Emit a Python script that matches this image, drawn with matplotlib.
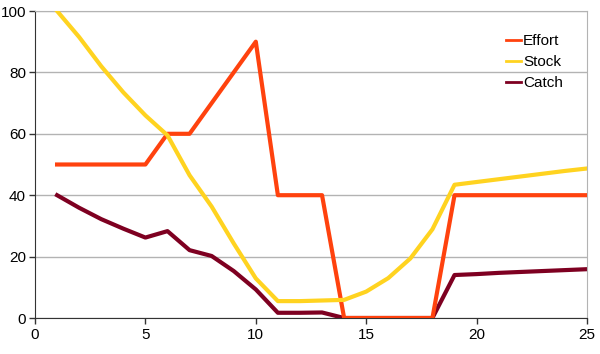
import matplotlib
matplotlib.use("Agg")
import matplotlib.pyplot as plt

# values
years = list(range(1, 26))
effort = [50, 50, 50, 50, 50, 60, 60, 70, 80, 90, 40, 40, 40, 0, 0,
          0, 0, 0, 40, 40, 40, 40, 40, 40, 40]
stock = [100, 91.5, 82, 73.5, 66, 59.5, 46.5, 36.3, 24.3, 12.9, 5.5, 5.5, 5.7, 5.9, 8.6,
         13, 19.4, 28.9, 43.4, 44.3, 45.2, 46.1, 47, 47.9, 48.7]
catch = [40, 35.9, 32.2, 29.1, 26.2, 28.3, 22.1, 20.2, 15.3, 9.3, 1.7, 1.7, 1.8, 0, 0,
         0, 0, 0, 14, 14.3, 14.7, 15, 15.3, 15.6, 15.9]

ORANGE = "#ff420e"
YELLOW = "#ffd320"
MAROON = "#7e0021"
GRID = "#b3b3b3"

plt.rcParams["font.family"] = ["Liberation Sans", "DejaVu Sans"]
plt.rcParams["font.size"] = 11

fig = plt.figure(figsize=(6, 3.54), dpi=100)
ax = fig.add_axes([35 / 600, 1 - 318 / 354, 552 / 600, 307 / 354])

h_e, = ax.plot(years, effort, color=ORANGE, linewidth=3, zorder=3, label="Effort")
h_s, = ax.plot(years, stock, color=YELLOW, linewidth=3, zorder=4, label="Stock")
h_c, = ax.plot(years, catch, color=MAROON, linewidth=3, zorder=2, label="Catch")

ax.set_xlim(0, 25)
ax.set_ylim(0, 100)
ax.set_xticks(range(0, 26, 5))
ax.set_yticks(range(0, 101, 20))
ax.yaxis.grid(True, color=GRID, linewidth=1)
ax.set_axisbelow(True)
ax.tick_params(length=4.5, width=1, color="#333333", labelsize=11)
ax.tick_params(axis="x", pad=3)
ax.tick_params(axis="y", pad=2)
for side in ("top", "right"):
    ax.spines[side].set_color(GRID)
for side in ("left", "bottom"):
    ax.spines[side].set_color("#333333")

leg = ax.legend([h_e, h_s, h_c], ["Effort", "Stock", "Catch"],
                loc="upper left", bbox_to_anchor=(506 / 600, 1 - 34 / 354),
                bbox_transform=fig.transFigure, frameon=False,
                borderpad=0, borderaxespad=0, handlelength=0.98,
                handletextpad=0.13, labelspacing=0.46, fontsize=11)
for line in leg.get_lines():
    line.set_linewidth(2)

fig.savefig("out.png")
